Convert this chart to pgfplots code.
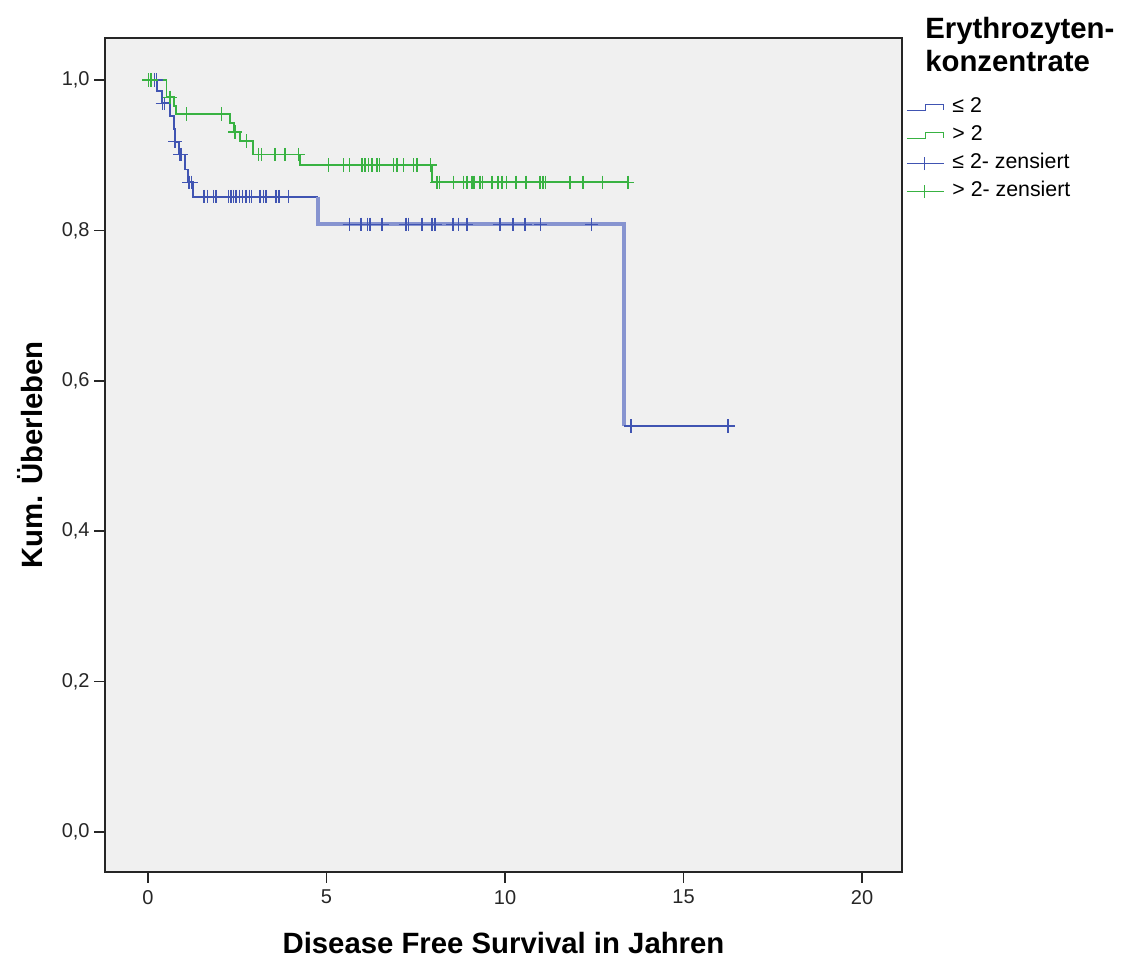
\documentclass[border=0pt]{standalone}
\usepackage{pgfplots}
\pgfplotsset{compat=1.18}
\usepackage{fontspec}
\setmainfont{Liberation Sans}

\definecolor{kmblue}{RGB}{64,84,178}
\definecolor{kmblueband}{RGB}{135,148,208}
\definecolor{kmgreen}{RGB}{56,178,66}
\definecolor{panel}{RGB}{240,240,240}

\pgfplotsset{
  km step legend/.style={legend image code/.code={%
    \draw[##1] (0pt,-2.2pt) -- (14pt,-2.2pt) -- (14pt,2.2pt) -- (27.5pt,2.2pt) -- (27.5pt,-2.2pt);}},
  km cens legend/.style={legend image code/.code={%
    \draw[##1] (0pt,0pt) -- (27.5pt,0pt) (13pt,-5pt) -- (13pt,5pt);}},
  cens/.style={only marks, mark=+, mark size=5pt, mark options={line width=1.1pt}},
}

\begin{document}
\begin{tikzpicture}
\path[use as bounding box] (0,0) rectangle (843pt,718.5pt);
\begin{axis}[
  at={(78.75pt,64.5pt)}, anchor=south west,
  scale only axis, width=597.75pt, height=625.5pt,
  xmin=-1.204, xmax=21.12, ymin=-0.0532, ymax=1.0559,
  axis background/.style={fill=panel},
  axis line style={black!85, line width=1.1pt},
  xtick={0,5,10,15,20}, ytick={0,0.2,0.4,0.6,0.8,1.0},
  tick pos=left, tick align=outside, major tick length=8pt,
  tick style={black!85, line width=1.1pt},
  ticklabel style={font=\fontsize{15}{18}\selectfont, text=black!85},
  x tick label style={yshift=-2pt},
  /pgf/number format/assume math mode=true,
  y tick label style={/pgf/number format/.cd, fixed, fixed zerofill, precision=1, use comma},
  xlabel={Disease Free Survival in Jahren},
  ylabel={Kum. Überleben},
  xlabel style={at={(axis description cs:0.5,-0.0851)}, anchor=center, font=\bfseries\fontsize{22}{26}\selectfont},
  ylabel style={at={(axis description cs:-0.0941,0.5)}, anchor=center, font=\bfseries\fontsize{22}{26}\selectfont},
  legend cell align=left,
  legend style={at={(axis description cs:1.005,0.929)}, anchor=north west, draw=none, fill=none,
    inner sep=0pt, row sep=6pt, column sep=6pt, font=\fontsize{16}{19}\selectfont,
    nodes={inner sep=0pt, text height=11.5pt, text depth=3.5pt}},
]
% legend entries
\addlegendimage{km step legend, kmblue, line width=1.1pt}
\addlegendentry{≤ 2}
\addlegendimage{km step legend, kmgreen, line width=1.1pt}
\addlegendentry{> 2}
\addlegendimage{km cens legend, kmblue, line width=1pt}
\addlegendentry{≤ 2- zensiert}
\addlegendimage{km cens legend, kmgreen, line width=1pt}
\addlegendentry{> 2- zensiert}

% group > 2 : survival curve
\addplot[const plot, kmgreen, line width=1.4pt, forget plot] coordinates {
  (0,1.0) (0.52,0.977) (0.72,0.966) (0.78,0.955) (2.30,0.943) (2.40,0.931)
  (2.58,0.919) (2.95,0.901) (4.26,0.887) (7.96,0.864) (13.44,0.864)};

% group <= 2 : survival curve
\addplot[const plot, kmblue, line width=1.4pt, forget plot] coordinates {
  (0,1.0) (0.25,0.985) (0.40,0.969) (0.62,0.952) (0.72,0.935) (0.76,0.918)
  (0.88,0.901) (1.04,0.881) (1.12,0.864) (1.27,0.845) (4.77,0.845)};
\addplot[kmblueband, line width=3pt, line join=miter, forget plot] coordinates {
  (4.77,0.845) (4.77,0.808) (13.33,0.808) (13.33,0.540)};
\addplot[kmblue, line width=1.4pt, forget plot] coordinates {
  (13.33,0.540) (16.25,0.540)};

% censored observations, group <= 2
\addplot[cens, kmblue, forget plot] coordinates {
  (0.18,1.0) (0.24,1.0) (0.40,0.969) (0.46,0.969) (0.76,0.918) (0.90,0.901) (0.94,0.901)
  (1.15,0.864) (1.22,0.864)
  (1.57,0.845) (1.66,0.845) (1.83,0.845) (1.90,0.845) (2.25,0.845) (2.32,0.845)
  (2.39,0.845) (2.46,0.845) (2.56,0.845) (2.65,0.845) (2.75,0.845) (2.84,0.845)
  (2.90,0.845) (3.14,0.845) (3.23,0.845) (3.30,0.845) (3.59,0.845) (3.67,0.845) (3.93,0.845)
  (5.64,0.808) (5.97,0.808) (6.15,0.808) (6.22,0.808) (6.55,0.808) (7.23,0.808)
  (7.29,0.808) (7.67,0.808) (7.95,0.808) (8.04,0.808) (8.54,0.808) (8.69,0.808)
  (8.93,0.808) (9.86,0.808) (10.22,0.808) (10.56,0.808) (10.99,0.808) (12.43,0.808)
  (13.53,0.540) (16.25,0.540)};

% censored observations, group > 2
\addplot[cens, kmgreen, forget plot] coordinates {
  (0.02,1.0) (0.09,1.0) (0.62,0.977) (1.08,0.955) (2.06,0.955) (2.44,0.931) (2.76,0.919)
  (3.09,0.901) (3.18,0.901) (3.56,0.901) (3.84,0.901) (4.22,0.901)
  (5.05,0.887) (5.47,0.887) (5.64,0.887) (5.99,0.887) (6.08,0.887) (6.18,0.887)
  (6.27,0.887) (6.41,0.887) (6.49,0.887) (6.87,0.887) (6.97,0.887) (7.15,0.887)
  (7.43,0.887) (7.53,0.887) (7.92,0.887)
  (8.09,0.864) (8.16,0.864) (8.55,0.864) (8.83,0.864) (8.93,0.864) (9.07,0.864)
  (9.13,0.864) (9.30,0.864) (9.37,0.864) (9.63,0.864) (9.81,0.864) (9.91,0.864)
  (10.04,0.864) (10.31,0.864) (10.59,0.864) (10.98,0.864) (11.07,0.864) (11.14,0.864)
  (11.82,0.864) (12.19,0.864) (12.73,0.864) (13.44,0.864)};
\end{axis}
% legend heading
\node[anchor=base west, inner sep=0pt, font=\bfseries\fontsize{22}{26}\selectfont] at (693.75pt,689.25pt) {Erythrozyten-};
\node[anchor=base west, inner sep=0pt, font=\bfseries\fontsize{22}{26}\selectfont] at (693.75pt,664.7pt) {konzentrate};
\end{tikzpicture}
\end{document}
